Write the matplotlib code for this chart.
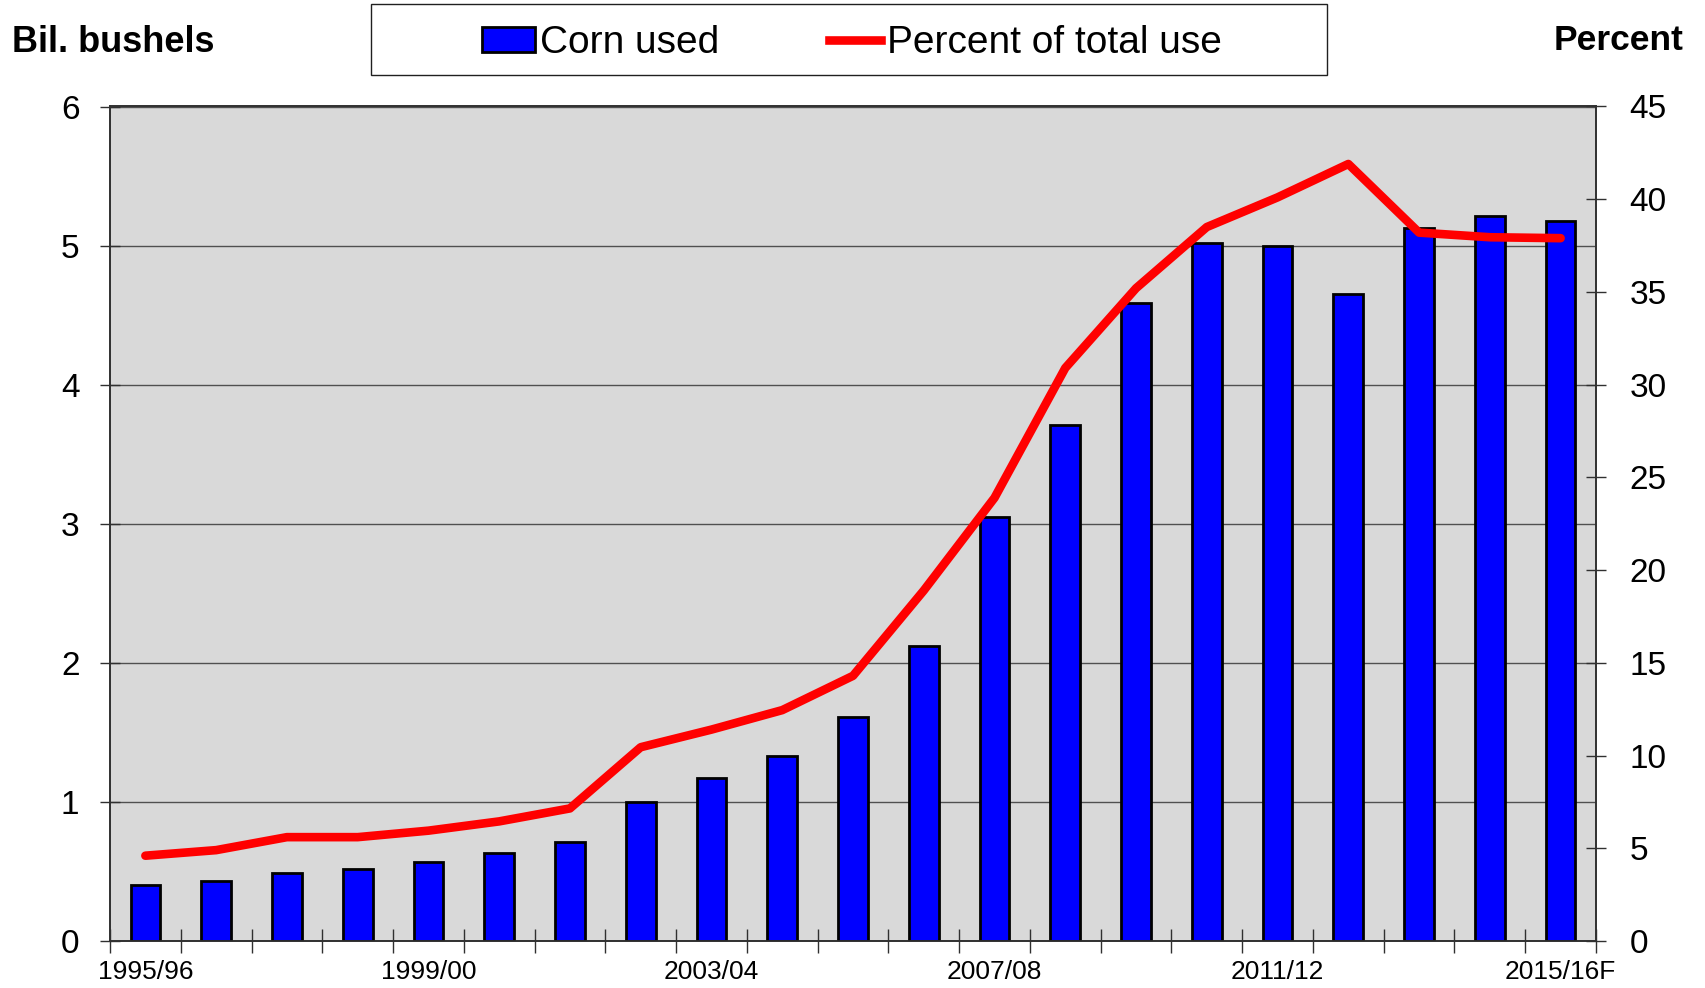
import matplotlib
matplotlib.use("Agg")
import matplotlib.pyplot as plt
from matplotlib.patches import Rectangle
from matplotlib.lines import Line2D

plt.rcParams['font.family'] = ['Liberation Sans', 'DejaVu Sans']

years = ["1995/96", "1996/97", "1997/98", "1998/99", "1999/00", "2000/01", "2001/02",
         "2002/03", "2003/04", "2004/05", "2005/06", "2006/07", "2007/08", "2008/09",
         "2009/10", "2010/11", "2011/12", "2012/13", "2013/14", "2014/15", "2015/16F"]
corn_used = [0.40, 0.43, 0.49, 0.52, 0.57, 0.63, 0.71, 1.00, 1.17, 1.33, 1.61, 2.12,
             3.05, 3.71, 4.59, 5.02, 5.00, 4.65, 5.13, 5.21, 5.18]
percent_use = [4.6, 4.9, 5.6, 5.6, 5.95, 6.45, 7.15, 10.45, 11.4, 12.45, 14.3, 18.9,
               23.9, 30.9, 35.2, 38.5, 40.1, 41.9, 38.2, 37.95, 37.9]
label_every = 4

W, H = 1706, 988
fig = plt.figure(figsize=(W / 100, H / 100), dpi=100)
ax = fig.add_axes([110 / W, 1 - 941 / H, (1596 - 110) / W, (941 - 106.5) / H])
ax.set_facecolor('#d9d9d9')

x = list(range(len(years)))
bars = ax.bar(x, corn_used, width=0.42, color='#0000ff', edgecolor='black',
              linewidth=2.0, zorder=3)
ax.set_xlim(-0.5, len(years) - 0.5)
ax.set_ylim(0, 6)
ax.set_yticks(range(0, 7))
ax.yaxis.grid(True, color='#505050', linewidth=1.0, zorder=1)
ax.set_axisbelow(True)

# x ticks at boundaries, labels at every 4th category
ax.set_xticks([i - 0.5 for i in range(len(years) + 1)])
ax.set_xticklabels([])
ax.set_xticks(x[::label_every], minor=True)
ax.set_xticklabels(years[::label_every], minor=True, fontsize=19)
ax.tick_params(axis='x', which='major', direction='inout', length=17, width=1.0, color='#303030')
ax.tick_params(axis='x', which='minor', length=0, pad=14)
ax.tick_params(axis='y', direction='inout', length=14, width=1.0, labelsize=24, pad=15, color='#303030')

for s in ['left', 'bottom', 'right', 'top']:
    ax.spines[s].set_color('#303030')
    ax.spines[s].set_linewidth(1.2)

ax2 = ax.twinx()
line, = ax2.plot(x, percent_use, color='#ff0000', linewidth=6.2, solid_capstyle='round',
                 solid_joinstyle='round', zorder=4)
ax2.set_ylim(0, 45)
ax2.set_yticks(range(0, 46, 5))
ax2.tick_params(axis='y', direction='inout', length=14, width=1.0, labelsize=24, pad=17, color='#303030')
for s in ['left', 'bottom', 'right', 'top']:
    ax2.spines[s].set_color('#303030')
    ax2.spines[s].set_linewidth(1.2)

fig.text(12 / W, 1 - 42 / H, "Bil. bushels", fontsize=26, fontweight='bold', ha='left', va='center')
fig.text(1684 / W, 1 - 40 / H, "Percent", fontsize=25.5, fontweight='bold', ha='right', va='center')

# legend box
fig.patches.append(Rectangle((371 / W, 1 - 75 / H), (1327 - 371) / W, 71 / H,
                             transform=fig.transFigure, facecolor='white',
                             edgecolor='#202020', linewidth=1.0, zorder=0))
handles = [Rectangle((0, 0), 1, 1, facecolor='#0000ff', edgecolor='black', linewidth=2.0),
           Line2D([0], [0], color='#ff0000', linewidth=6.2)]
fig.legend(handles, ["Corn used", "Percent of total use"], loc='center',
           bbox_to_anchor=(852 / W, 1 - 43 / H), ncol=2, frameon=False, fontsize=28,
           handlelength=1.35, handleheight=0.6, handletextpad=0.15, columnspacing=2.8,
           borderpad=0.2)

fig.savefig('out.png', dpi=100)
